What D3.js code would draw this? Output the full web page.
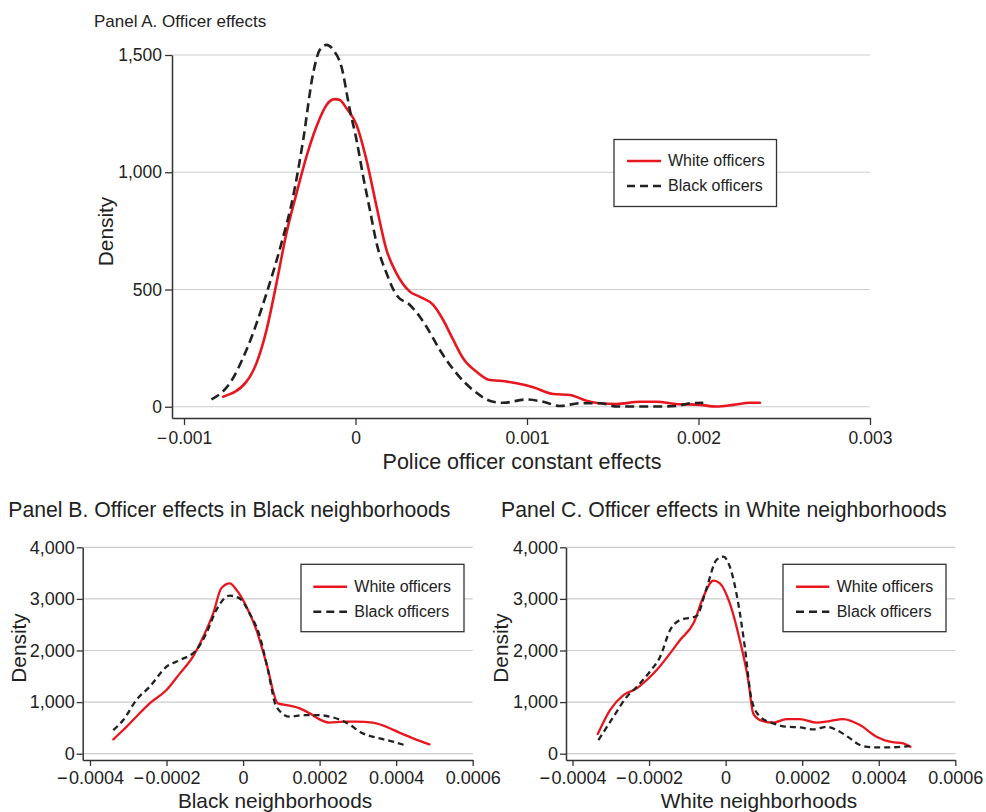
<!DOCTYPE html>
<html>
<head>
<meta charset="utf-8">
<script src="https://cdn.jsdelivr.net/npm/d3@7"></script>
<style>
  html, body { margin: 0; padding: 0; background: #fff; }
  svg { display: block; font-family: "Liberation Sans", Arial, Helvetica, sans-serif; }
</style>
</head>
<body>
<svg id="chart" width="986" height="812"></svg>
<script>
// ---------------- DATA ----------------
const seriesNames = ["White officers", "Black officers"];

// Panel A: Police officer constant effects (x in units of 1e-3)
const aWhiteX = [-0.772, -0.636, -0.578, -0.519, -0.461, -0.403, -0.344, -0.286, -0.228, -0.169, -0.121, -0.091, -0.053, 0.006, 0.064, 0.123, 0.181, 0.239, 0.317, 0.375, 0.453, 0.511, 0.570, 0.628, 0.706, 0.784, 0.842, 0.939, 1.036, 1.153, 1.250, 1.347, 1.425, 1.523, 1.659, 1.756, 1.872, 2.008, 2.105, 2.202, 2.300, 2.358];
const aWhiteY = [43, 107, 185, 327, 526, 739, 910, 1067, 1194, 1287, 1312, 1308, 1273, 1202, 1052, 853, 668, 569, 491, 469, 434, 370, 285, 206, 149, 114, 111, 100, 83, 54, 50, 26, 15, 12, 21, 21, 12, 8, 1, 8, 17, 17];
const aBlackX = [-0.840, -0.733, -0.636, -0.519, -0.432, -0.364, -0.305, -0.247, -0.208, -0.169, -0.130, -0.082, -0.033, 0.006, 0.045, 0.084, 0.123, 0.181, 0.239, 0.317, 0.375, 0.414, 0.492, 0.589, 0.686, 0.803, 0.861, 0.997, 1.095, 1.192, 1.309, 1.425, 1.523, 1.620, 1.775, 1.872, 1.950, 2.028];
const aBlackY = [31, 100, 242, 483, 697, 896, 1138, 1422, 1522, 1543, 1522, 1450, 1266, 1138, 981, 839, 697, 569, 476, 434, 384, 341, 242, 142, 71, 21, 17, 31, 21, 3, 15, 15, 1, 1, 1, 3, 15, 17];
const aXTicks = [-0.001, 0, 0.001, 0.002, 0.003];
const aYTicks = [0, 500, 1000, 1500];

// Panel B: Black neighborhoods (x in units of 1e-3)
const bWhiteX = [-0.339, -0.313, -0.279, -0.244, -0.200, -0.165, -0.131, -0.104, -0.078, -0.057, -0.035, -0.017, 0.009, 0.035, 0.061, 0.091, 0.122, 0.148, 0.174, 0.200, 0.226, 0.261, 0.296, 0.339, 0.374, 0.409, 0.444, 0.487];
const bWhiteY = [278, 459, 717, 975, 1234, 1557, 1880, 2267, 2720, 3204, 3301, 3172, 2849, 2397, 1751, 975, 930, 879, 782, 665, 601, 620, 620, 601, 523, 407, 297, 181];
const bBlackX = [-0.339, -0.313, -0.279, -0.244, -0.200, -0.165, -0.122, -0.096, -0.070, -0.035, -0.009, 0.017, 0.044, 0.065, 0.087, 0.122, 0.157, 0.191, 0.235, 0.270, 0.313, 0.357, 0.392, 0.422];
const bBlackY = [459, 652, 1040, 1298, 1686, 1815, 2009, 2332, 2784, 3062, 3010, 2720, 2267, 1621, 911, 717, 749, 749, 704, 601, 394, 297, 233, 168];

// Panel C: White neighborhoods (x in units of 1e-3)
const cWhiteX = [-0.334, -0.302, -0.267, -0.232, -0.206, -0.180, -0.145, -0.119, -0.084, -0.058, -0.032, -0.015, 0.011, 0.037, 0.059, 0.072, 0.090, 0.124, 0.159, 0.194, 0.238, 0.272, 0.307, 0.351, 0.394, 0.429, 0.464, 0.483];
const cWhiteY = [381, 846, 1137, 1266, 1428, 1622, 1945, 2203, 2526, 3043, 3353, 3301, 2913, 2203, 1428, 782, 652, 601, 672, 672, 601, 633, 672, 556, 330, 233, 200, 136];
const cBlackX = [-0.332, -0.293, -0.258, -0.232, -0.198, -0.171, -0.145, -0.119, -0.076, -0.050, -0.024, -0.006, 0.011, 0.033, 0.050, 0.068, 0.090, 0.124, 0.159, 0.194, 0.229, 0.264, 0.290, 0.325, 0.351, 0.386, 0.429, 0.481];
const cBlackY = [265, 717, 1105, 1298, 1589, 1880, 2397, 2591, 2668, 3204, 3753, 3818, 3624, 2913, 2074, 1040, 717, 588, 523, 510, 472, 523, 459, 297, 168, 123, 123, 149];

const bcXTicks = [-0.0004, -0.0002, 0, 0.0002, 0.0004, 0.0006];
const bcYTicks = [0, 1000, 2000, 3000, 4000];

// ---------------- DRAWING ----------------
const svg = d3.select("#chart");
const RED = "#e8161f", BLACK = "#222222", AXIS = "#333333", GRID = "#cccccc", TEXT = "#222222";

const xFmt = v => v === 0 ? "0" : (v < 0 ? "\u2212\u200A" : "") + String(+Math.abs(v).toPrecision(6));
const yFmt = d3.format(",");

function toPts(xs, ys) { return xs.map((x, i) => [x * 1e-3, ys[i]]); }

function drawPanel(cfg) {
  const x = d3.scaleLinear().domain(cfg.xDomain).range(cfg.xRange);
  const y = d3.scaleLinear().domain(cfg.yDomain).range(cfg.yRange);
  const g = svg.append("g");

  // gridlines
  g.append("g").selectAll("line").data(cfg.yTicks).join("line")
    .attr("x1", cfg.xRange[0]).attr("x2", cfg.xRange[1])
    .attr("y1", d => y(d)).attr("y2", d => y(d))
    .attr("stroke", GRID).attr("stroke-width", 1.2);

  // axes
  const yAx = g.append("g").attr("transform", `translate(${cfg.xRange[0]},0)`)
    .call(d3.axisLeft(y).tickValues(cfg.yTicks).tickFormat(yFmt)
      .tickSize(cfg.tickLen).tickPadding(cfg.yPad).tickSizeOuter(0));
  const xAx = g.append("g").attr("transform", `translate(0,${cfg.yRange[0]})`)
    .call(d3.axisBottom(x).tickValues(cfg.xTicks).tickFormat(xFmt)
      .tickSize(cfg.tickLen).tickPadding(cfg.xPad).tickSizeOuter(0));
  [yAx, xAx].forEach(a => {
    a.select(".domain").attr("stroke", AXIS).attr("stroke-width", 1.5);
    a.selectAll(".tick line").attr("stroke", AXIS).attr("stroke-width", 1.3);
    a.selectAll(".tick text").attr("fill", TEXT).style("font-size", cfg.tickFont + "px")
      .style("font-family", '"Liberation Sans", Arial, sans-serif');
  });

  // lines
  const line = d3.line().x(d => x(d[0])).y(d => y(d[1])).curve(d3.curveMonotoneX);
  g.append("path").datum(toPts(cfg.white[0], cfg.white[1]))
    .attr("d", line).attr("fill", "none").attr("stroke", RED)
    .attr("stroke-width", cfg.lw).attr("stroke-linejoin", "round").attr("stroke-linecap", "round");
  g.append("path").datum(toPts(cfg.black[0], cfg.black[1]))
    .attr("d", line).attr("fill", "none").attr("stroke", BLACK)
    .attr("stroke-width", cfg.lw).attr("stroke-dasharray", cfg.dash);

  // titles
  g.append("text").attr("x", cfg.title.x).attr("y", cfg.title.y)
    .attr("fill", TEXT).style("font-size", cfg.title.size + "px").text(cfg.title.text);
  g.append("text").attr("x", cfg.xTitle.x).attr("y", cfg.xTitle.y)
    .attr("text-anchor", "middle").attr("fill", TEXT)
    .style("font-size", cfg.xTitle.size + "px").text(cfg.xTitle.text);
  g.append("text").attr("transform", `translate(${cfg.yTitle.x},${cfg.yTitle.y}) rotate(-90)`)
    .attr("text-anchor", "middle").attr("fill", TEXT)
    .style("font-size", cfg.yTitle.size + "px").text("Density");

  // legend
  const L = cfg.legend;
  const lg = g.append("g");
  lg.append("rect").attr("x", L.x).attr("y", L.y).attr("width", L.w).attr("height", L.h)
    .attr("fill", "#fff").attr("stroke", AXIS).attr("stroke-width", 1.3);
  seriesNames.forEach((name, i) => {
    const ly = L.y + L.r0 + i * L.dr;
    lg.append("line").attr("x1", L.x + L.l0).attr("x2", L.x + L.l1)
      .attr("y1", ly).attr("y2", ly)
      .attr("stroke", i === 0 ? RED : BLACK).attr("stroke-width", 2.6)
      .attr("stroke-dasharray", i === 0 ? null : "8,5");
    lg.append("text").attr("x", L.x + L.tx).attr("y", ly + 5.3)
      .attr("fill", TEXT).style("font-size", "16px").text(name);
  });
}

drawPanel({
  xDomain: [-0.00107, 0.003], xRange: [172, 870],
  yDomain: [-48, 1500], yRange: [418, 55],
  xTicks: aXTicks, yTicks: aYTicks,
  tickLen: 7, yPad: 3, xPad: 6.5, tickFont: 17.5,
  white: [aWhiteX, aWhiteY], black: [aBlackX, aBlackY],
  lw: 2.6, dash: "9,5",
  title: { x: 94, y: 27.3, size: 17, text: "Panel A. Officer effects" },
  xTitle: { x: 522, y: 469, size: 21.5, text: "Police officer constant effects" },
  yTitle: { x: 113, y: 231.5, size: 20.8 },
  legend: { x: 614, y: 139.5, w: 162.5, h: 67, r0: 21.5, dr: 25, l0: 13, l1: 47, tx: 54 }
});

drawPanel({
  xDomain: [-0.000419, 0.0006], xRange: [82.7, 472.7],
  yDomain: [-122, 4000], yRange: [760, 547.3],
  xTicks: bcXTicks, yTicks: bcYTicks,
  tickLen: 6, yPad: 2, xPad: 5.7, tickFont: 18,
  white: [bWhiteX, bWhiteY], black: [bBlackX, bBlackY],
  lw: 2.3, dash: "6,4",
  title: { x: 8.3, y: 517.3, size: 21.2, text: "Panel B. Officer effects in Black neighborhoods" },
  xTitle: { x: 275, y: 808, size: 20.8, text: "Black neighborhoods" },
  yTitle: { x: 26, y: 648, size: 20.8 },
  legend: { x: 301, y: 564.3, w: 163, h: 67.4, r0: 22.4, dr: 25, l0: 12.3, l1: 46, tx: 53.3 }
});

drawPanel({
  xDomain: [-0.000417, 0.0006], xRange: [566, 955.3],
  yDomain: [-122, 4000], yRange: [760, 547.3],
  xTicks: bcXTicks, yTicks: bcYTicks,
  tickLen: 6, yPad: 2, xPad: 5.7, tickFont: 18,
  white: [cWhiteX, cWhiteY], black: [cBlackX, cBlackY],
  lw: 2.3, dash: "6,4",
  title: { x: 501, y: 517.3, size: 21.2, text: "Panel C. Officer effects in White neighborhoods" },
  xTitle: { x: 759, y: 808, size: 20.8, text: "White neighborhoods" },
  yTitle: { x: 508.3, y: 648, size: 20.8 },
  legend: { x: 783, y: 564.3, w: 163, h: 67.4, r0: 22.4, dr: 25, l0: 13, l1: 46.3, tx: 53.7 }
});
</script>
</body>
</html>
